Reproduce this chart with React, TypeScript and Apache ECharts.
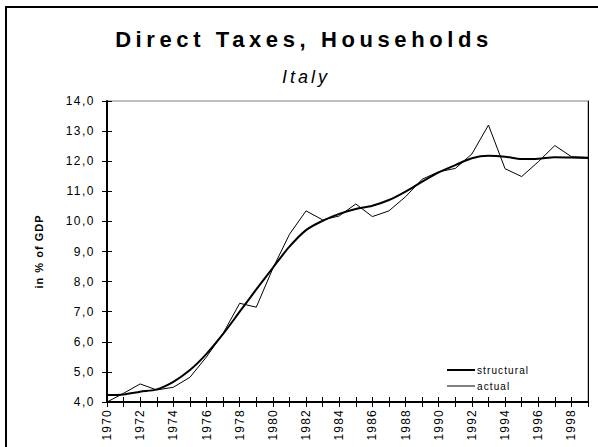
import React, { useEffect, useRef } from "react";
import * as echarts from "echarts";

const years = [
  "1970","1971","1972","1973","1974","1975","1976","1977","1978","1979",
  "1980","1981","1982","1983","1984","1985","1986","1987","1988","1989",
  "1990","1991","1992","1993","1994","1995","1996","1997","1998","1999",
];
const structural = [
  4.23, 4.25, 4.34, 4.42, 4.67, 5.06, 5.6, 6.26, 7.0, 7.74,
  8.46, 9.16, 9.71, 10.02, 10.25, 10.41, 10.52, 10.71, 10.99, 11.32,
  11.63, 11.87, 12.1, 12.18, 12.15, 12.07, 12.08, 12.13, 12.12, 12.11,
];
const actual = [
  4.0, 4.29, 4.6, 4.4, 4.49, 4.82, 5.5, 6.28, 7.28, 7.15,
  8.44, 9.57, 10.35, 10.05, 10.18, 10.58, 10.16, 10.35, 10.82, 11.4,
  11.65, 11.76, 12.24, 13.2, 11.75, 11.49, 11.98, 12.52, 12.15, 12.13,
];
const titleText = "Direct Taxes, Households";
const subtitleText = "Italy";
const yAxisName = "in % of GDP";

const FONT = "'Liberation Sans', Arial, sans-serif";
const fmt = (v: number) => v.toFixed(1).replace(".", ",");

export default function App() {
  const ref = useRef<HTMLDivElement>(null);
  useEffect(() => {
    document.body.style.margin = "0";
    const chart = echarts.init(ref.current!, null, { renderer: "svg" });
    const yBase = { type: "value", min: 4, max: 14, interval: 1 };
    const yLabelSet = new Set<string>();
    for (let v = 4; v <= 14; v++) yLabelSet.add(fmt(v));
    const yearSet = new Set(years);
    const applySpacing = () => {
      const root = ref.current;
      if (!root) return;
      root.querySelectorAll("text").forEach((t) => {
        const s = (t.textContent || "").trim();
        let sp = "";
        if (s === titleText) sp = "4.6";
        else if (s === subtitleText) sp = "3";
        else if (s === yAxisName) sp = "1";
        else if (yLabelSet.has(s)) sp = "1.5";
        else if (yearSet.has(s)) sp = "1.2";
        else if (s === "structural" || s === "actual") sp = "1.1";
        if (sp) t.setAttribute("letter-spacing", sp);
      });
    };
    chart.on("finished", applySpacing);
    chart.setOption({
      animation: false,
      backgroundColor: "#ffffff",
      textStyle: { fontFamily: FONT },
      graphic: [
        {
          type: "rect",
          shape: { x: 6, y: 7, width: 620, height: 470 },
          style: { fill: "none", stroke: "#000", lineWidth: 2 },
          silent: true,
          z: 100,
        },
      ],
      title: [
        {
          text: titleText,
          left: 304,
          textAlign: "center",
          top: 28,
          padding: 0,
          textStyle: { fontFamily: FONT, fontSize: 22, fontWeight: "bold", color: "#000" },
        },
        {
          text: subtitleText,
          left: 306,
          textAlign: "center",
          top: 68,
          padding: 0,
          textStyle: { fontFamily: FONT, fontSize: 18, fontStyle: "italic", fontWeight: "normal", color: "#000" },
        },
      ],
      legend: {
        orient: "vertical",
        left: 442,
        top: 360,
        itemWidth: 28,
        itemHeight: 2,
        itemGap: 6,
        icon: "rect",
        textStyle: { fontFamily: FONT, fontSize: 10, color: "#000", padding: [0, 0, 0, -3] },
        data: [
          { name: "structural", itemStyle: { color: "#000" } },
          { name: "actual", itemStyle: { color: "#808080" } },
        ],
      },
      grid: {
        left: 107,
        top: 101,
        width: 481,
        height: 301,
        show: true,
        borderColor: "#808080",
        borderWidth: 1,
        backgroundColor: "transparent",
      },
      xAxis: [
        {
          type: "category",
          data: years,
          boundaryGap: false,
          axisLine: { lineStyle: { color: "#000", width: 2 } },
          axisTick: { show: true, inside: false, length: 5, interval: 0, lineStyle: { color: "#000", width: 1 } },
          axisLabel: {
            interval: 1,
            rotate: 90,
            margin: 7,
            fontFamily: FONT,
            fontSize: 12,
            color: "#000",
          },
          splitLine: { show: false },
        },
        {
          type: "category",
          data: years,
          boundaryGap: false,
          position: "bottom",
          axisLine: { show: false },
          axisTick: { show: true, inside: true, length: 5, interval: 0, lineStyle: { color: "#000", width: 1 } },
          axisLabel: { show: false },
          splitLine: { show: false },
        },
      ],
      yAxis: [
        {
          ...yBase,
          name: yAxisName,
          nameLocation: "middle",
          nameGap: 63,
          nameRotate: 90,
          nameTextStyle: { fontFamily: FONT, fontSize: 11, fontWeight: "bold", color: "#000" },
          axisLine: { show: true, lineStyle: { color: "#000", width: 2 } },
          axisTick: { show: true, inside: false, length: 5, lineStyle: { color: "#000", width: 1 } },
          axisLabel: {
            margin: 12,
            fontFamily: FONT,
            fontSize: 12,
            color: "#000",
            formatter: fmt,
          },
          splitLine: { show: false },
        },
        {
          ...yBase,
          position: "left",
          axisLine: { show: false },
          axisTick: { show: true, inside: true, length: 5, lineStyle: { color: "#000", width: 1 } },
          axisLabel: { show: false },
          splitLine: { show: false },
        },
        {
          ...yBase,
          position: "right",
          axisLine: { show: true, lineStyle: { color: "#000", width: 1 } },
          axisTick: { show: false },
          axisLabel: { show: false },
          splitLine: { show: false },
        },
      ],
      series: [
        {
          name: "structural",
          type: "line",
          data: structural,
          smooth: 0.3,
          showSymbol: false,
          lineStyle: { color: "#000", width: 2 },
          itemStyle: { color: "#000" },
          z: 3,
        },
        {
          name: "actual",
          type: "line",
          data: actual,
          showSymbol: false,
          lineStyle: { color: "#000", width: 1 },
          itemStyle: { color: "#808080" },
          z: 2,
        },
      ],
    });
    applySpacing();
    const tm = setTimeout(applySpacing, 50);
    return () => {
      clearTimeout(tm);
      chart.dispose();
    };
  }, []);
  return <div ref={ref} style={{ width: 598, height: 447 }} />;
}
